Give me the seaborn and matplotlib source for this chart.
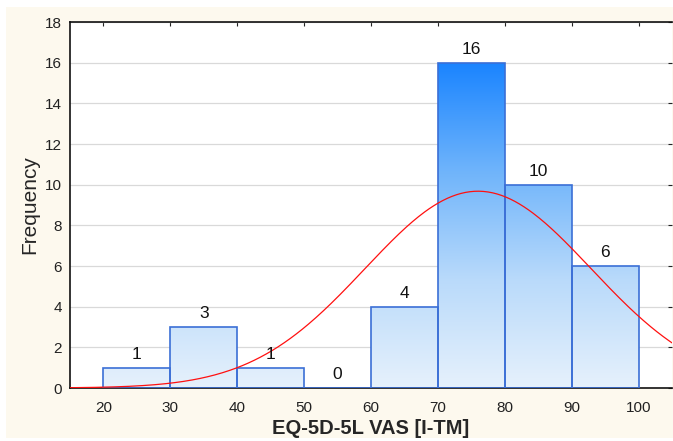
import numpy as np
import matplotlib
matplotlib.use('Agg')
import matplotlib.pyplot as plt
import matplotlib.patches as mpatches
import seaborn as sns
from matplotlib.colors import LinearSegmentedColormap

# data
bin_edges = [20, 30, 40, 50, 60, 70, 80, 90, 100]
counts = [1, 3, 1, 0, 4, 16, 10, 6]
fit_mean = 76.0
fit_sd = 16.9
x_ticks = [20, 30, 40, 50, 60, 70, 80, 90, 100]
y_ticks = [0, 2, 4, 6, 8, 10, 12, 14, 16, 18]

sns.set_style('white')
plt.rcParams['font.family'] = ['Liberation Sans', 'DejaVu Sans']

fig = plt.figure(figsize=(6.73, 4.41), dpi=100)
fig.patch.set_facecolor('white')
# cream panel behind everything
fig.patches.append(mpatches.Rectangle((6 / 673, 3 / 441), 667 / 673, 431 / 441,
                                      transform=fig.transFigure, facecolor='#fdf9ee',
                                      edgecolor='none', zorder=-10))
ax = fig.add_axes([70 / 673, 53 / 441, 602 / 673, 366 / 441])
ax.set_facecolor('white')

centers = [(a + b) / 2 for a, b in zip(bin_edges[:-1], bin_edges[1:])]
sns.histplot(x=centers, weights=counts, bins=bin_edges, ax=ax,
             color='none', edgecolor='#3b6fd6', linewidth=1.2, alpha=1, zorder=3)

# gradient fill clipped by bars
cmap = LinearSegmentedColormap.from_list('g', ['#e6f1fc', '#b9dafa', '#6fb4fb', '#1a84ff'])
grad = np.linspace(0, 1, 256).reshape(-1, 1)
for p in list(ax.patches):
    if p.get_height() <= 0:
        continue
    im = ax.imshow(grad, extent=[15, 105, 0, 16], origin='lower', cmap=cmap,
                   aspect='auto', zorder=2)
    im.set_clip_path(p)

# bar labels
for c, n in zip(centers, counts):
    ax.text(c, n + 0.28, str(n), ha='center', va='bottom', fontsize=12.5, color='#111111', zorder=5)

# fitted normal curve
xs = np.linspace(15, 105, 400)
total = sum(counts)
width = bin_edges[1] - bin_edges[0]
ys = total * width / (fit_sd * np.sqrt(2 * np.pi)) * np.exp(-0.5 * ((xs - fit_mean) / fit_sd) ** 2)
sns.lineplot(x=xs, y=ys, ax=ax, color='#ff1010', linewidth=0.9, zorder=4)

ax.set_xlim(15, 105)
ax.set_ylim(0, 18)
ax.set_xticks(x_ticks)
ax.set_yticks(y_ticks)
ax.yaxis.grid(True, color='#d9d9d9', linewidth=0.9, zorder=0)
ax.set_axisbelow(True)
ax.tick_params(axis='both', labelsize=11, colors='#222222', length=3, direction='in',
               top=True, right=True, bottom=False, left=False)
ax.tick_params(axis='x', pad=9)
ax.tick_params(axis='y', pad=6)
for s in ['left', 'top', 'bottom']:
    ax.spines[s].set_color('#111111')
    ax.spines[s].set_linewidth(1.2)
ax.spines['right'].set_visible(False)

ax.set_xlabel('EQ-5D-5L VAS [I-TM]', fontsize=14.5, fontweight='bold', labelpad=3)
ax.set_ylabel('Frequency', fontsize=15, labelpad=4)

fig.savefig('out.png', dpi=100, facecolor=fig.get_facecolor())
